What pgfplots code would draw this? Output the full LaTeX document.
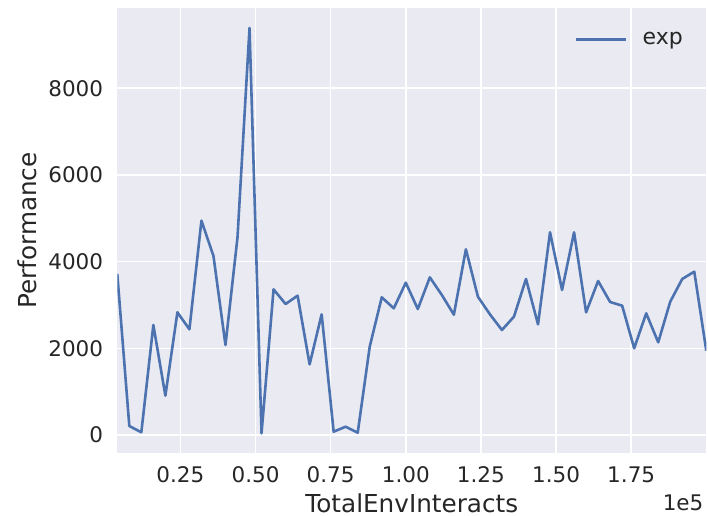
\documentclass[border=0pt]{standalone}
\usepackage{pgfplots}
\pgfplotsset{compat=1.18}
\usepackage{fontspec}
\setmainfont{DejaVu Sans}
\definecolor{bgcol}{HTML}{EAEAF2}
\definecolor{linecol}{HTML}{4C72B0}
\definecolor{txtcol}{HTML}{262626}
\pgfplotstableread{
x y
4000 3714
8000 208
12000 62
16000 2538
20000 907
24000 2830
28000 2438
32000 4945
36000 4130
40000 2076
44000 4560
48000 9390
52000 40
56000 3360
60000 3022
64000 3214
68000 1630
72000 2784
76000 77
80000 192
84000 52
88000 2038
92000 3176
96000 2922
100000 3514
104000 2906
108000 3637
112000 3230
116000 2776
120000 4284
124000 3190
128000 2784
132000 2422
136000 2730
140000 3600
144000 2553
148000 4676
152000 3345
156000 4676
160000 2830
164000 3553
168000 3068
172000 2983
176000 2000
180000 2807
184000 2138
188000 3076
192000 3600
196000 3768
200000 1945
}\exptable
\begin{document}
\begin{tikzpicture}
\begin{axis}[
  scale only axis,
  width=589bp, height=445bp,
  xmin=4000, xmax=200000,
  ymin=-415, ymax=9850,
  axis background/.style={fill=bgcol},
  axis line style={draw=none},
  major tick length=0pt,
  grid=major,
  major grid style={white, line width=1.6bp},
  xtick={25000,50000,75000,100000,125000,150000,175000},
  xticklabels={0.25,0.50,0.75,1.00,1.25,1.50,1.75},
  ytick={0,2000,4000,6000,8000},
  scaled ticks=false,
  /pgf/number format/assume math mode=true,
  /pgf/number format/1000 sep={},
  tick label style={font=\fontsize{21.5bp}{26bp}\selectfont, text=txtcol, inner sep=0pt},
  xticklabel style={anchor=base, yshift=-29.3bp},
  yticklabel style={anchor=east, xshift=-14bp},
  xlabel={TotalEnvInteracts},
  ylabel={Performance},
  label style={font=\fontsize{24.7bp}{29bp}\selectfont, text=txtcol, inner sep=0pt},
  xlabel style={at={(axis description cs:0.5,-0.1333)}, anchor=base},
  ylabel style={at={(axis description cs:-0.1375,0.5)}, anchor=base},
  legend style={draw=none, fill=none, inner sep=0pt, outer sep=0pt,
    at={(rel axis cs:0.7759,0.9297)}, anchor=west,
    font=\fontsize{22bp}{26bp}\selectfont, text=txtcol,
    nodes={inner sep=0pt}},
  legend image code/.code={\draw[#1] (0bp,0bp) -- (50bp,0bp); \path (65.7bp,0bp);},
]
\addplot[color=linecol, line width=2.6bp, line join=round] table[x=x, y=y] {\exptable};
\addlegendentry{exp}
\end{axis}
\node[anchor=base east, inner sep=0pt, font=\fontsize{21.5bp}{26bp}\selectfont, text=txtcol]
  at ([xshift=-2.7bp, yshift=-57.7bp]current axis.south east) {1e5};
\pgfresetboundingbox
\useasboundingbox ([xshift=-117.3bp, yshift=-63bp]current axis.south west) rectangle ++(708bp,516bp);
\end{tikzpicture}
\end{document}
